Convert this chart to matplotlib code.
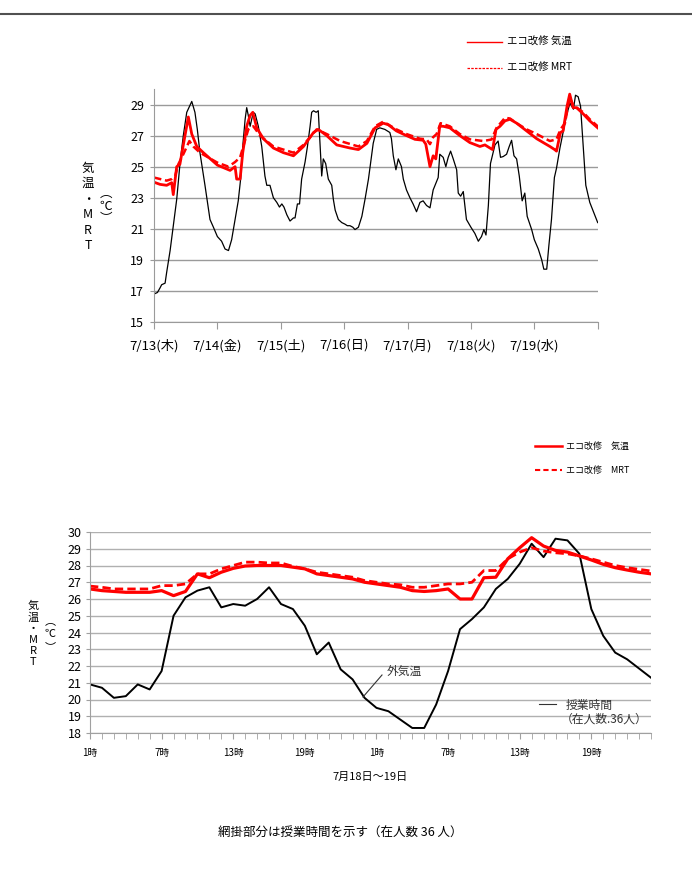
import matplotlib
matplotlib.use('Agg')
import matplotlib.pyplot as plt
from matplotlib.lines import Line2D

plt.rcParams['font.family'] = ['Noto Sans CJK JP', 'DejaVu Sans']

# ── top chart: one week (hours since 7/13 0:00) ──
day_labels = ['7/13(木)', '7/14(金)', '7/15(土)', '7/16(日)', '7/17(月)', '7/18(火)', '7/19(水)']

out_hours = [0, 1.3, 2.3, 2.9, 4.2, 4.8, 6.1, 7.3, 8.6, 9.9, 11.1, 12.4, 14.3, 15.5, 16.4, 17.4,
             18.4, 19.3, 19.9, 21.2, 22.5, 24.0, 25.6, 26.9, 28.2, 29.4, 30.7, 31.9, 32.8, 33.6,
             34.5, 35.1, 35.7, 36.4, 37.0, 37.6, 38.3, 39.5, 40.8, 42.0, 42.7, 43.9, 45.2, 46.5,
             47.5, 48.4, 49.2, 50.3, 51.5, 52.8, 53.4, 54.3, 55.1, 55.9, 57.2, 58.1, 59.1, 59.7,
             60.4, 61.4, 62.2, 62.9, 63.5, 64.1, 65.0, 66.0, 67.3, 67.9, 68.6, 69.8, 71.1, 72.3,
             73.2, 74.2, 75.3, 76.1, 77.4, 78.7, 79.9, 81.2, 82.4, 83.0, 84.3, 85.5, 87.4, 89.3,
             89.9, 90.6, 91.6, 92.5, 93.7, 94.4, 95.6, 96.9, 98.1, 99.4, 100.7, 101.9, 103.2,
             104.5, 105.7, 107.6, 108.2, 109.5, 110.5, 111.4, 112.3, 113.3, 114.6, 115.2, 116.1,
             117.1, 118.3, 120.0, 121.5, 122.8, 124.0, 124.9, 125.7, 126.6, 127.4, 129.1, 130.3,
             131.2, 132.2, 133.5, 134.5, 135.4, 136.3, 137.3, 138.3, 139.4, 140.4, 141.3, 143.0,
             144.0, 145.5, 146.8, 147.6, 148.7, 149.5, 150.5, 151.6, 152.4, 153.7, 154.9, 156.2,
             157.5, 158.8, 159.6, 160.6, 161.5, 162.5, 163.5, 165.0, 166.6, 168.0]
out_temp = [16.8, 16.9, 17.2, 17.4, 17.5, 18.2, 19.6, 21.2, 22.9, 25.3, 27.0, 28.5, 29.2, 28.5, 27.4, 25.9,
            24.8, 23.8, 23.1, 21.6, 21.1, 20.5, 20.2, 19.7, 19.6, 20.3, 21.6, 22.8, 24.2, 26.3,
            28.05, 28.8, 28.3, 27.6, 28.05, 28.5, 28.4, 27.6, 26.3, 24.4, 23.8, 23.8, 23.0, 22.7,
            22.4, 22.6, 22.4, 21.9, 21.5, 21.7, 21.7, 22.6, 22.6, 24.2, 25.3, 26.3, 27.6, 28.5,
            28.6, 28.5, 28.6, 26.3, 24.4, 25.5, 25.2, 24.2, 23.8, 22.9, 22.2, 21.6, 21.4, 21.3,
            21.2, 21.2, 21.1, 20.95, 21.1, 21.8, 22.9, 24.2, 25.7, 26.5, 27.4, 27.5, 27.4, 27.2,
            26.8, 25.7, 24.8, 25.5, 25.0, 24.2, 23.5, 23.0, 22.6, 22.1, 22.7, 22.8, 22.5,
            22.35, 23.5, 24.3, 25.8, 25.6, 25.0, 25.6, 26.0, 25.5, 24.8, 23.3, 23.1,
            23.4, 21.6, 21.1, 20.7, 20.2, 20.5, 20.95, 20.6, 22.5, 25.2, 26.4, 26.65,
            25.6, 25.65, 25.8, 26.3, 26.7, 25.7, 25.5, 24.4, 22.8, 23.3, 21.8, 20.95,
            20.3, 19.7, 19.0, 18.4, 18.4, 19.9, 21.6, 24.3, 24.9, 26.2, 27.2, 28.3,
            29.1, 28.7, 29.6, 29.5, 28.9, 26.3, 23.8, 22.7, 22.0, 21.4]

eco_hours = [0, 2.3, 4.8, 6.7, 7.3, 8.6, 9.8, 11.1, 13.0, 14.3, 16.2, 18.7, 24.0, 28.8, 30.7, 31.3,
             32.6, 33.6, 35.1, 36.4, 37.4, 38.9, 41.4, 45.2, 49.0, 52.8, 56.6, 60.4, 62.2, 65.4,
             69.2, 74.2, 77.4, 80.6, 83.7, 86.8, 88.7, 91.8, 95.6, 98.8, 101.9, 102.9, 104.5,
             105.7, 106.7, 108.2, 109.5, 112.0, 115.8, 119.6, 123.4, 125.3, 127.2, 128.2, 129.5,
             131.0, 132.9, 134.8, 137.3, 141.1, 144.9, 149.9, 151.7, 152.4, 153.9, 154.9, 156.4,
             157.4, 158.7, 160.0, 162.5, 165.0, 168.0]
eco_air = [24.0, 23.86, 23.8, 23.97, 23.2, 25.0, 25.15, 26.4, 28.2, 27.1, 26.3, 25.9, 25.1, 24.76, 25.0, 24.2,
           24.2, 25.9, 27.6, 28.3, 28.5, 27.5, 26.8, 26.2, 25.9, 25.7, 26.3, 27.2, 27.4, 27.0,
           26.4, 26.2, 26.1, 26.5, 27.5, 27.8, 27.7, 27.3, 27.0, 26.76, 26.7, 26.45, 25.0,
           25.7, 25.5, 27.6, 27.6, 27.5, 27.0, 26.55, 26.3, 26.4, 26.2, 26.1, 27.4,
           27.6, 27.95, 28.05, 27.8, 27.3, 26.8, 26.3, 26.1, 26.0, 27.2, 27.3, 28.9,
           29.67, 28.8, 28.8, 28.4, 27.95, 27.5]

mrt_hours = [0, 4.8, 6.7, 8.0, 9.2, 11.1, 13.4, 14.9, 17.4, 24.0, 28.2, 30.7, 32.6, 33.8, 35.7, 37.6,
             40.2, 45.2, 52.8, 56.6, 61.6, 65.4, 70.5, 77.4, 80.6, 83.7, 86.8, 91.8, 95.6, 100.7,
             103.2, 104.5, 105.7, 107.0, 108.5, 112.0, 115.8, 119.6, 124.7, 127.8, 129.7, 132.9,
             134.8, 137.3, 141.1, 144.9, 149.9, 152.4, 153.9, 155.6, 157.4, 158.7, 162.5, 165.0, 168.0]
eco_mrt = [24.3, 24.1, 24.2, 24.4, 25.15, 25.8, 26.65, 26.3, 25.9, 25.26, 25.0, 25.3, 25.6, 26.3, 27.4, 27.6,
           27.0, 26.3, 25.9, 26.4, 27.4, 27.1, 26.65, 26.3, 26.65, 27.6, 27.9, 27.4, 27.1, 26.8,
           26.76, 26.45, 26.9, 27.1, 27.8, 27.6, 27.1, 26.76, 26.65, 26.75, 27.5, 28.15,
           28.1, 27.8, 27.4, 27.1, 26.65, 26.76, 27.4, 27.8, 29.45, 28.96, 28.5, 28.05, 27.6]

# ── bottom chart: 7/18 1時 … 7/19 24時, hourly ──
hour_labels = ['1時', '7時', '13時', '19時', '1時', '7時', '13時', '19時']
outdoor = [20.9, 20.7, 20.1, 20.2, 20.9, 20.6, 21.7, 25.0, 26.1, 26.5, 26.7, 25.5, 25.7, 25.6, 26.0, 26.7,
           25.7, 25.4, 24.4, 22.7, 23.4, 21.8, 21.2, 20.1, 19.5, 19.3, 18.8, 18.3, 18.3, 19.7, 21.7, 24.2,
           24.8, 25.5, 26.6, 27.2, 28.1, 29.3, 28.5, 29.6, 29.5, 28.7, 25.4, 23.8, 22.8, 22.4, 21.85, 21.3]
room_air = [26.6, 26.5, 26.45, 26.4, 26.4, 26.4, 26.5, 26.2, 26.45, 27.5, 27.27, 27.6, 27.83, 27.97, 28.0, 28.0,
            28.0, 27.9, 27.8, 27.5, 27.4, 27.3, 27.2, 27.0, 26.9, 26.8, 26.7, 26.5, 26.45, 26.5, 26.6, 26.0,
            26.0, 27.27, 27.3, 28.4, 29.06, 29.66, 29.16, 28.9, 28.8, 28.57, 28.33, 28.07, 27.87, 27.73, 27.6, 27.5]
room_mrt = [26.77, 26.7, 26.6, 26.6, 26.6, 26.6, 26.8, 26.8, 26.9, 27.5, 27.5, 27.8, 28.0, 28.2, 28.2, 28.15,
            28.15, 27.95, 27.8, 27.6, 27.5, 27.4, 27.3, 27.1, 27.0, 26.9, 26.85, 26.7, 26.7, 26.8, 26.9, 26.9,
            27.0, 27.7, 27.7, 28.4, 28.8, 29.06, 28.86, 28.76, 28.7, 28.57, 28.4, 28.2, 28.0, 27.87, 27.77, 27.67]

W, H = 692, 871
def fx(x):
    return x / W
def fy(y):
    return 1 - y / H

RED = '#ff0000'
GRID = '#9a9a9a'


def vertical_unit(x, y_open, y_mid, y_close, size):
    # "（℃）" written vertically: vertical-form brackets, ℃ upright
    fig.text(fx(x), fy(y_open), '︵', ha='center', va='center', fontsize=size)
    fig.text(fx(x), fy(y_mid), '℃', ha='center', va='center', fontsize=size)
    fig.text(fx(x), fy(y_close), '︶', ha='center', va='center', fontsize=size)


fig = plt.figure(figsize=(W / 100, H / 100), dpi=100)
fig.add_artist(Line2D([0, 1], [fy(14), fy(14)], color='#505050', lw=1.5, transform=fig.transFigure))

# ──────────────── top chart ────────────────
ax1 = fig.add_axes([fx(154), fy(322), fx(597.7) - fx(154), fy(89) - fy(322)])
ax1.plot(out_hours, out_temp, color='black', lw=0.9)
ax1.plot(eco_hours, eco_air, color=RED, lw=2.0)
ax1.plot(mrt_hours, eco_mrt, color=RED, lw=1.8, ls=(0, (3, 1.5)))
ax1.set_xlim(0, 168)
ax1.set_ylim(15, 30)
ax1.set_yticks(range(15, 30, 2))
ax1.set_xticks(range(0, 169, 24))
ax1.set_xticklabels(day_labels + [''])
ax1.grid(axis='y', color=GRID, lw=1.0)
ax1.set_axisbelow(True)
for s in ['top', 'right']:
    ax1.spines[s].set_visible(False)
for s in ['left', 'bottom']:
    ax1.spines[s].set_color(GRID)
ax1.tick_params(axis='x', length=5, color=GRID, labelsize=9.5, pad=7)
ax1.tick_params(axis='y', length=3, color=GRID, labelsize=9, pad=4)

fig.text(fx(88), fy(207), '気\n温\n・\nM\nR\nT', ha='center', va='center', fontsize=9, linespacing=1.25)
vertical_unit(106, 193, 206, 219, 9)

fig.add_artist(Line2D([fx(467), fx(502)], [fy(42), fy(42)], color=RED, lw=1.0, transform=fig.transFigure))
fig.add_artist(Line2D([fx(467), fx(502)], [fy(68), fy(68)], color=RED, lw=0.9, ls=(0, (2, 1)),
                      transform=fig.transFigure))
fig.text(fx(507), fy(42), 'エコ改修 気温', va='center', fontsize=7.5)
fig.text(fx(507), fy(68), 'エコ改修 MRT', va='center', fontsize=7.5)

# ──────────────── bottom chart ────────────────
ax2 = fig.add_axes([fx(90), fy(733), fx(651) - fx(90), fy(532) - fy(733)])
idx = list(range(len(outdoor)))
ax2.plot(idx, outdoor, color='black', lw=1.4)
ax2.plot(idx, room_air, color=RED, lw=2.3)
ax2.plot(idx, room_mrt, color=RED, lw=2.0, ls=(0, (3, 1.5)))
ax2.set_xlim(0, len(outdoor) - 1)
ax2.set_ylim(18, 30)
ax2.set_yticks(range(18, 31))
ax2.set_xticks(range(0, len(outdoor), 6))
ax2.set_xticklabels(hour_labels)
ax2.set_xticks(idx, minor=True)
ax2.grid(axis='y', color='#b0b0b0', lw=1.0)
ax2.set_axisbelow(True)
for s in ['top', 'right']:
    ax2.spines[s].set_visible(False)
for s in ['left', 'bottom']:
    ax2.spines[s].set_color('#a0a0a0')
ax2.tick_params(axis='x', which='both', length=4, color='#a0a0a0', labelsize=7, pad=7)
ax2.tick_params(axis='y', length=3, color='#a0a0a0', labelsize=9, pad=3)
ax2.set_xlabel('7月18日～19日', fontsize=8, labelpad=10)

fig.text(fx(33), fy(634), '気\n温\n・\nM\nR\nT', ha='center', va='center', fontsize=8, linespacing=1.15)
vertical_unit(50, 621, 634, 647, 8)

fig.add_artist(Line2D([fx(535), fx(562)], [fy(446), fy(446)], color=RED, lw=1.8, transform=fig.transFigure))
fig.add_artist(Line2D([fx(535), fx(562)], [fy(470), fy(470)], color=RED, lw=1.5, ls=(0, (2.5, 1.5)),
                      transform=fig.transFigure))
fig.text(fx(566), fy(446), 'エコ改修　気温', va='center', fontsize=6.5)
fig.text(fx(566), fy(470), 'エコ改修　MRT', va='center', fontsize=6.5)

# annotations
fig.add_artist(Line2D([fx(382), fx(363)], [fy(675), fy(697)], color='#333333', lw=0.8, transform=fig.transFigure))
fig.text(fx(387), fy(671), '外気温', va='center', fontsize=8.5, color='#333333')
fig.add_artist(Line2D([fx(539), fx(556)], [fy(704), fy(704)], color='#333333', lw=0.8, transform=fig.transFigure))
fig.text(fx(566), fy(705), '授業時間', va='center', fontsize=8.5, color='#333333')
fig.text(fx(561), fy(719), '（在人数.36人）', va='center', fontsize=8.5, color='#333333')

fig.text(fx(340), fy(833), '網掛部分は授業時間を示す（在人数 36 人）', ha='center', va='center', fontsize=9)

fig.savefig('out.png', dpi=100)
